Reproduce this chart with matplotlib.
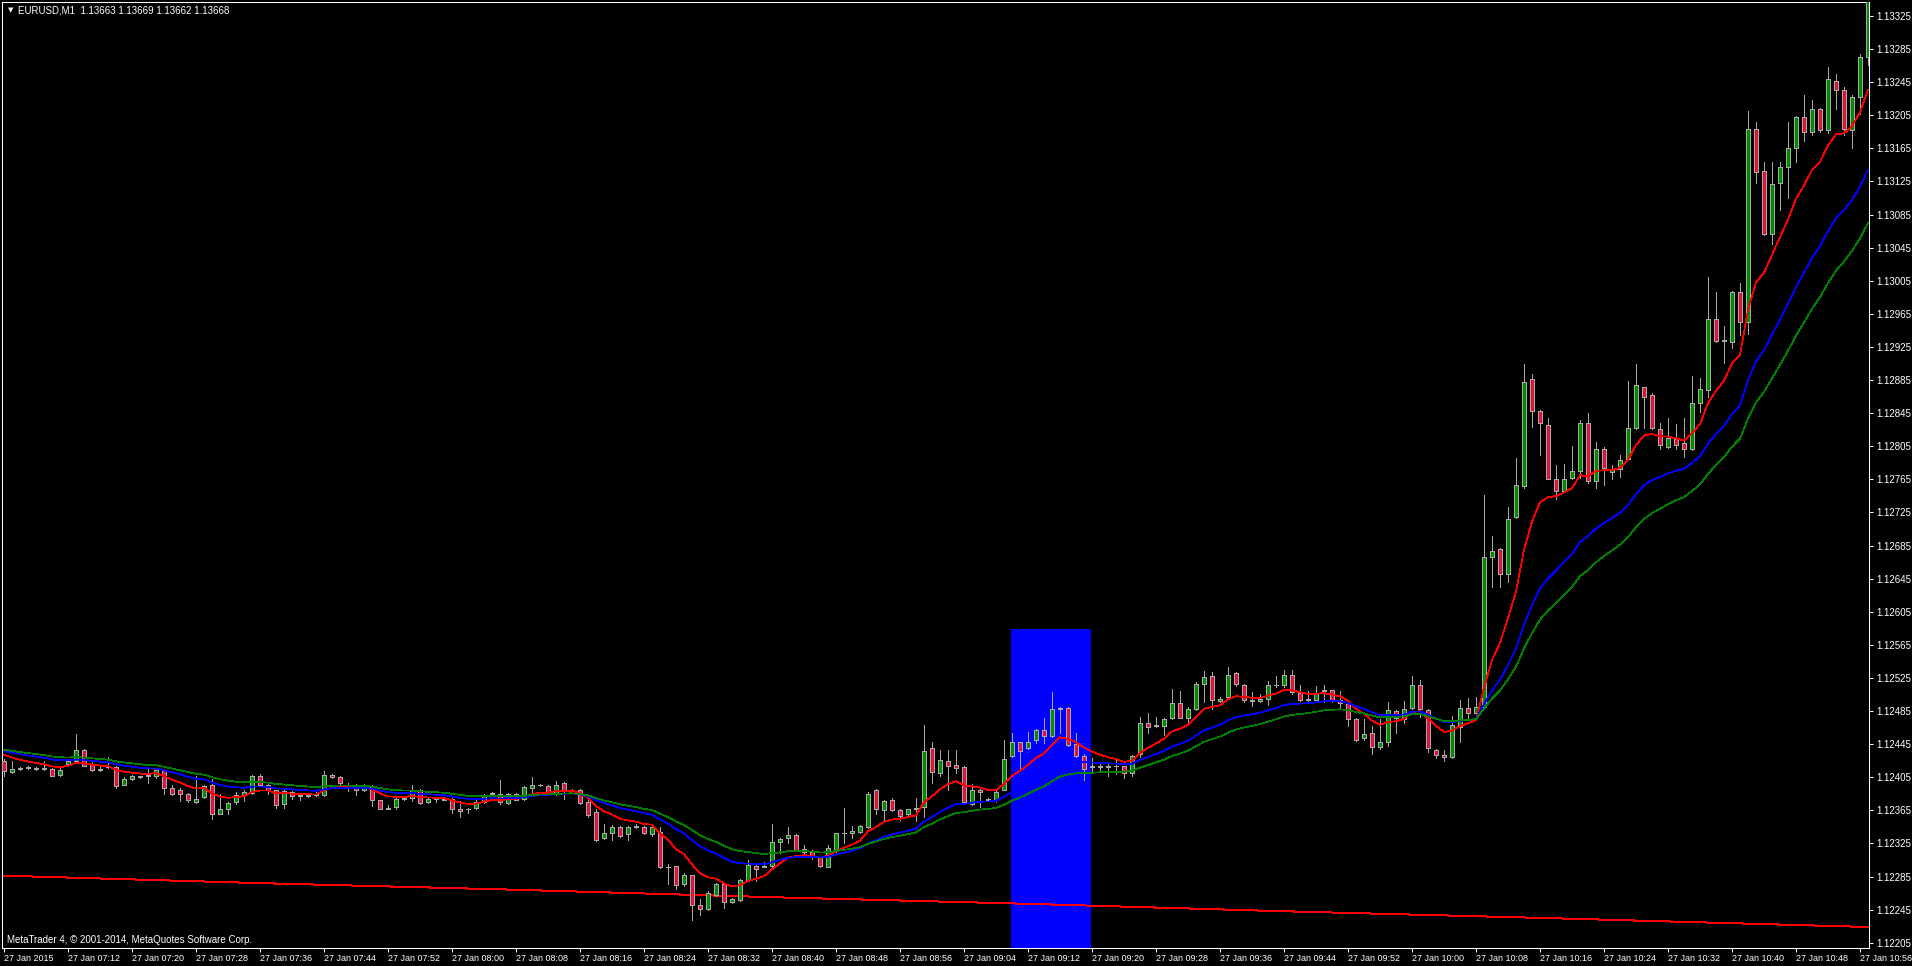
import numpy as np
import matplotlib
matplotlib.use("Agg")
import matplotlib.pyplot as plt
from matplotlib.patches import Rectangle

# ---------------- data (prices in points, 1 point = 0.00001) ----------------
open_ = [112425,112411,112416,112417,112416,112415,112415,112408,112421,112425,
         112438,112421,112415,112418,112417,112396,112403,112406,112408,112406,
         112414,112392,112390,112385,112375,112381,112396,112361,112366,112375,
         112383,112386,112407,112396,112389,112373,112387,112382,112383,112385,
         112383,112408,112405,112396,112396,112389,112394,112378,112368,112369,
         112380,112380,112390,112375,112380,112379,112379,112367,112367,112368,
         112375,112385,112385,112374,112385,112379,112392,112396,112394,112385,
         112398,112390,112390,112375,112363,112332,112338,112345,112336,112345,
         112345,112336,112339,112297,112298,112276,112287,112251,112246,112263,
         112276,112254,112257,112281,112298,112298,112298,112327,112332,112335,
         112318,112315,112308,112297,112316,112338,112337,112339,112345,112390,
         112365,112377,112365,112360,112368,112369,112440,112410,112425,112420,
         112417,112373,112389,112379,112378,112390,112431,112447,112440,112450,
         112462,112455,112489,112489,112445,112431,112418,112418,112418,112419,
         112418,112410,112433,112471,112468,112467,112476,112495,112477,112487,
         112518,112527,112497,112502,112531,112517,112498,112497,112499,112517,
         112516,112528,112507,112499,112498,112510,112510,112498,112495,112475,
         112453,112458,112441,112448,112485,112475,112489,112517,112486,112438,
         112432,112430,112466,112489,112483,112490,112671,112681,112651,112719,
         112757,112886,112847,112831,112766,112751,112767,112775,112833,112763,
         112802,112774,112778,112789,112827,112876,112867,112826,112804,112814,
         112809,112802,112857,112873,112959,112933,112931,112991,112955,113188,
         113138,113062,113123,113142,113166,113203,113185,113213,113187,113247,
         113235,113187,113227,113275]
high = [112427,112425,112417,112418,112417,112425,112416,112417,112426,112457,
        112439,112425,112418,112430,112418,112405,112408,112407,112416,112415,
        112415,112396,112392,112386,112406,112395,112403,112385,112375,112387,
        112389,112408,112409,112397,112390,112390,112388,112386,112384,112387,
        112412,112409,112406,112398,112397,112397,112395,112378,112372,112380,
        112381,112395,112391,112380,112381,112380,112380,112376,112368,112377,
        112385,112387,112402,112386,112386,112394,112405,112397,112395,112400,
        112399,112391,112391,112377,112366,112348,112347,112346,112346,112348,
        112346,112346,112345,112300,112298,112289,112287,112258,112268,112277,
        112277,112259,112282,112305,112299,112302,112349,112332,112345,112336,
        112323,112317,112309,112323,112338,112368,112346,112347,112387,112391,
        112377,112380,112366,112367,112380,112468,112448,112438,112438,112438,
        112418,112397,112392,112380,112388,112450,112458,112448,112460,112463,
        112476,112508,112490,112490,112458,112433,112428,112423,112421,112427,
        112419,112432,112478,112483,112478,112476,112512,112509,112490,112520,
        112533,112532,112502,112538,112532,112518,112508,112505,112521,112527,
        112535,112535,112517,112509,112515,112517,112511,112509,112496,112476,
        112475,112467,112475,112496,112486,112497,112527,112522,112488,112439,
        112438,112479,112498,112501,112502,112746,112697,112682,112732,112791,
        112904,112892,112849,112839,112782,112783,112805,112837,112845,112810,
        112804,112782,112794,112884,112904,112877,112869,112833,112839,112832,
        112839,112890,112888,113009,112992,112950,112993,113002,113210,113197,
        113149,113149,113148,113197,113204,113230,113224,113214,113263,113255,
        113239,113230,113279,113350]
low = [112406,112410,112414,112415,112414,112414,112406,112406,112420,112424,
       112418,112413,112413,112416,112392,112395,112402,112404,112398,112404,
       112385,112384,112376,112375,112374,112380,112354,112360,112360,112373,
       112376,112385,112395,112385,112368,112368,112379,112378,112381,112382,
       112382,112404,112396,112388,112384,112388,112370,112366,112366,112367,
       112378,112376,112373,112374,112375,112377,112362,112357,112362,112367,
       112374,112384,112373,112373,112377,112378,112385,112394,112384,112384,
       112379,112388,112373,112357,112328,112330,112329,112333,112329,112344,
       112336,112334,112295,112276,112270,112274,112232,112238,112245,112262,
       112247,112253,112256,112280,112280,112296,112297,112314,112326,112316,
       112310,112306,112296,112296,112315,112326,112332,112338,112344,112361,
       112353,112364,112353,112358,112352,112357,112398,112407,112389,112410,
       112373,112372,112369,112377,112375,112389,112430,112416,112439,112446,
       112446,112454,112458,112443,112430,112402,112412,112412,112406,112409,
       112404,112407,112429,112458,112466,112456,112475,112476,112470,112486,
       112496,112487,112496,112501,112515,112496,112491,112496,112492,112514,
       112514,112506,112497,112497,112496,112496,112496,112489,112467,112449,
       112450,112433,112439,112443,112458,112471,112488,112478,112436,112428,
       112425,112428,112448,112476,112477,112489,112635,112635,112641,112718,
       112755,112828,112794,112765,112741,112750,112766,112767,112761,112754,
       112758,112766,112768,112788,112826,112827,112826,112802,112803,112802,
       112792,112801,112846,112864,112931,112906,112924,112940,112941,113123,
       113060,113050,113091,113105,113148,113174,113181,113185,113184,113213,
       113181,113166,113207,113266]
close = [112413,112415,112415,112416,112415,112415,112407,112414,112425,112438,
         112419,112414,112414,112417,112394,112403,112406,112405,112407,112414,
         112392,112385,112385,112377,112379,112394,112361,112366,112374,112384,
         112387,112407,112396,112389,112372,112388,112382,112384,112382,112383,
         112408,112405,112398,112395,112390,112395,112378,112367,112367,112379,
         112379,112390,112374,112379,112379,112378,112366,112364,112366,112375,
         112384,112386,112375,112385,112378,112393,112396,112395,112385,112396,
         112390,112389,112374,112359,112329,112338,112345,112334,112345,112345,
         112337,112345,112296,112296,112275,112287,112250,112246,112265,112276,
         112254,112258,112281,112299,112294,112297,112327,112330,112335,112317,
         112315,112308,112298,112319,112337,112337,112340,112346,112385,112366,
         112376,112365,112358,112366,112367,112437,112411,112426,112419,112416,
         112375,112389,112387,112378,112387,112427,112447,112437,112448,112462,
         112455,112488,112488,112444,112431,112415,112417,112417,112417,112418,
         112410,112431,112471,112466,112467,112475,112495,112477,112487,112518,
         112526,112498,112500,112529,112518,112498,112497,112499,112516,112516,
         112528,112508,112498,112498,112507,112509,112498,112495,112475,112450,
         112457,112441,112447,112486,112476,112488,112517,112488,112440,112432,
         112430,112468,112489,112483,112490,112671,112678,112651,112717,112758,
         112883,112848,112833,112766,112751,112766,112775,112833,112763,112802,
         112779,112778,112788,112827,112879,112864,112827,112806,112815,112806,
         112802,112857,112874,112959,112932,112932,112991,112955,113188,113136,
         113061,113122,113143,113166,113203,113185,113213,113187,113249,113236,
         113188,113227,113275,113345]

# moving averages (EMA periods and their values just before the first bar)
ma_periods = [9, 21, 30]
ma_seeds = [112437, 112439, 112440]
ma_colors = ["#ff0000", "#0000ff", "#008000"]

# slow red average line, read at a few bars
slow_bars = [0, 32, 64, 96, 128, 160, 192, 233]
slow_vals = [112286, 112277, 112269, 112260, 112252, 112243, 112235, 112224]

# highlighted box (bar positions, top price)
box_left, box_right, box_top = 125.9, 135.9, 1.12584

xtick_bars = list(range(0, 233, 8))
xtick_labels = ["27 Jan 2015", "27 Jan 07:12", "27 Jan 07:20", "27 Jan 07:28",
                "27 Jan 07:36", "27 Jan 07:44", "27 Jan 07:52", "27 Jan 08:00",
                "27 Jan 08:08", "27 Jan 08:16", "27 Jan 08:24", "27 Jan 08:32",
                "27 Jan 08:40", "27 Jan 08:48", "27 Jan 08:56", "27 Jan 09:04",
                "27 Jan 09:12", "27 Jan 09:20", "27 Jan 09:28", "27 Jan 09:36",
                "27 Jan 09:44", "27 Jan 09:52", "27 Jan 10:00", "27 Jan 10:08",
                "27 Jan 10:16", "27 Jan 10:24", "27 Jan 10:32", "27 Jan 10:40",
                "27 Jan 10:48", "27 Jan 10:56"]
ytick_labels = ["1.13325", "1.13285", "1.13245", "1.13205", "1.13165", "1.13125",
                "1.13085", "1.13045", "1.13005", "1.12965", "1.12925", "1.12885",
                "1.12845", "1.12805", "1.12765", "1.12725", "1.12685", "1.12645",
                "1.12605", "1.12565", "1.12525", "1.12485", "1.12445", "1.12405",
                "1.12365", "1.12325", "1.12285", "1.12245", "1.12205"]

title_text = "EURUSD,M1  1.13663 1.13669 1.13662 1.13668"
footer_text = "MetaTrader 4, \u00a9 2001-2014, MetaQuotes Software Corp."

# ---------------- drawing ----------------
W, H = 1912, 966
FONT = ["Liberation Sans", "DejaVu Sans"]
FS = 7.0
FSX = 6.5
fig = plt.figure(figsize=(W / 100, H / 100), dpi=100, facecolor="black")
ax = fig.add_axes([2 / W, (H - 948) / H, (1869 - 2) / W, (948 - 2) / H])
ax.set_facecolor("black")

o = np.array(open_) / 1e5
h = np.array(high) / 1e5
l = np.array(low) / 1e5
c = np.array(close) / 1e5
x = np.arange(len(c))

ax.set_xlim(-0.25, 233.125)
ax.set_ylim(1.121986, 1.133419)

# box behind everything
ax.add_patch(Rectangle((box_left, 1.1), box_right - box_left, box_top - 1.1,
                       facecolor="#0000ff", edgecolor="none", zorder=1,
                       antialiased=False))

# slow line
ax.plot(slow_bars, np.array(slow_vals) / 1e5, color="#ff0000", lw=0.72,
        zorder=2, antialiased=False)

# candles
gray = "#a8a8a8"
ax.vlines(x, l, h, colors=gray, linewidth=0.72, zorder=3, antialiased=False)
bull = c >= o
body = c - o
body = np.where(np.abs(body) < 0.6e-5, 0.6e-5, body)
fills = np.where(bull, "#008c00", "#dc143c")
ax.bar(x, body, bottom=o, width=0.5, color=fills, edgecolor=gray,
       linewidth=0.72, zorder=4, antialiased=False)

# moving averages
for period, seed, col in zip(ma_periods, ma_seeds, ma_colors):
    a = 2.0 / (period + 1)
    e = seed / 1e5
    vals = []
    for v in c:
        e = e + a * (v - e)
        vals.append(e)
    ax.plot(x, vals, color=col, lw=0.55, zorder=5, antialiased=False)

# spines
for s in ax.spines.values():
    s.set_color("white")
    s.set_linewidth(0.75)

# axes ticks
ax.yaxis.tick_right()
ax.set_yticks([float(t) for t in ytick_labels])
ax.set_yticklabels(ytick_labels)
ax.set_xticks(xtick_bars)
ax.set_xticklabels(xtick_labels)
ax.tick_params(axis="both", colors="white", direction="out", length=3,
               width=0.75, labelcolor="white")
ax.tick_params(axis="y", pad=2, labelsize=FS)
ax.tick_params(axis="x", pad=1.5, labelsize=FSX)
for lab in ax.get_xticklabels():
    lab.set_ha("left")
    lab.set_family(FONT)
for lab in ax.get_yticklabels():
    lab.set_family(FONT)

# texts
fig.text(8 / W, 1 - 10.5 / H, "\u25bc", color="white", fontsize=5,
         va="center", ha="left", family="DejaVu Sans")
fig.text(18 / W, 1 - 10.5 / H, title_text, color="white", fontsize=FS,
         va="center", ha="left", family=FONT)
fig.text(7 / W, 1 - 940 / H, footer_text, color="white", fontsize=FS,
         va="center", ha="left", family=FONT)

fig.savefig("out.png", dpi=100, facecolor="black")
